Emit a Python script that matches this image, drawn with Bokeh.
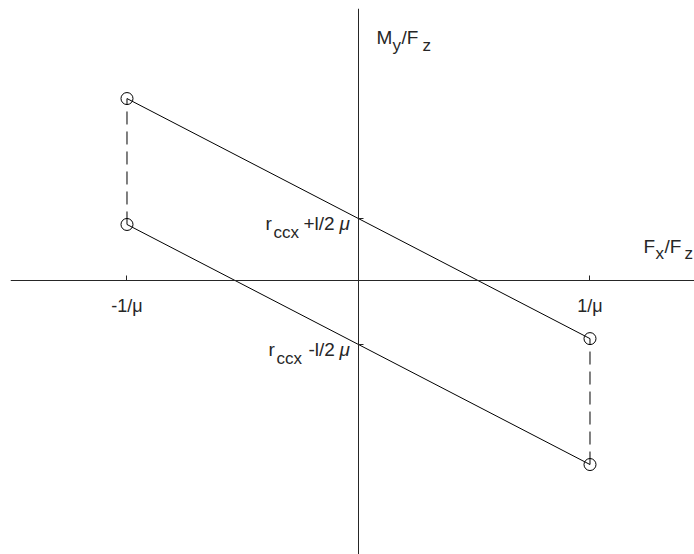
from bokeh.plotting import figure
from bokeh.models import LinearAxis, FixedTicker, Range1d
from bokeh.core.properties import value
from bokeh.embed import file_html
from bokeh.resources import INLINE

# Friction limits on the horizontal axis (in units of 1/mu)
fx_ticks = [-1, 1]
fx_tick_labels = ["-1/\u03bc", "1/\u03bc"]

# Moment/force ratio at the two friction limits
my_upper = [0.786, -0.251]
my_lower = [0.242, -0.795]

# Where each boundary line crosses the vertical axis (Fx/Fz = 0)
upper_icpt = (my_upper[0] + my_upper[1]) / 2
lower_icpt = (my_lower[0] + my_lower[1]) / 2

FONT = "Liberation Sans"
TXT = "#262626"
AX = "#262626"

x0, x1 = -1.5032, 1.4514
y0, y1 = -1.1836, 1.175

p = figure(width=694, height=554, x_range=Range1d(x0, x1), y_range=Range1d(y0, y1),
           x_axis_location=None, y_axis_location=None, toolbar_location=None,
           output_backend="svg", min_border_left=10, min_border_top=8,
           min_border_right=0, min_border_bottom=0, outline_line_color=None)
p.grid.visible = False

xax = LinearAxis(fixed_location=0, ticker=FixedTicker(ticks=fx_ticks),
                 major_label_overrides={t: s for t, s in zip(fx_ticks, fx_tick_labels)},
                 major_tick_in=5, major_tick_out=0, minor_tick_in=0, minor_tick_out=0,
                 axis_line_color=AX, major_tick_line_color=AX,
                 major_label_standoff=15, major_label_text_font=FONT,
                 major_label_text_font_size="18px", major_label_text_color=TXT)
p.add_layout(xax, "below")

yax = LinearAxis(fixed_location=0, ticker=FixedTicker(ticks=[upper_icpt, lower_icpt]),
                 major_tick_in=5, major_tick_out=0, minor_tick_in=0, minor_tick_out=0,
                 axis_line_color=AX, major_tick_line_color=AX,
                 major_label_text_color=None)
p.add_layout(yax, "left")

# Boundary lines of the stick region
p.line(fx_ticks, my_upper, line_color="black", line_width=1)
p.line(fx_ticks, my_lower, line_color="black", line_width=1)

# Dashed connectors at each friction limit
p.segment(x0=fx_ticks, y0=my_lower, x1=fx_ticks, y1=my_upper,
          line_color="black", line_width=1, line_dash="13 7")

# Corner points
p.scatter(fx_ticks + fx_ticks, my_upper + my_lower, marker="circle", size=12,
          fill_color=None, line_color="black", line_width=1)


def put(x, y, pieces):
    for txt, dx, dy, size, style in pieces:
        p.text(x=[x], y=[y], text=[txt], x_offset=dx, y_offset=dy,
               text_font=value(FONT), text_font_size=f"{size}px", text_font_style=style,
               text_color=TXT, text_align="left", text_baseline="alphabetic")


MAIN, SUB = 19, 17
N, I = "normal", "italic"

# Labels of the axis crossings
put(0, upper_icpt, [("r", -93, 5, MAIN, N), ("ccx", -85, 14, SUB, N),
                    ("+l/2", -55, 5, MAIN, N), ("\u03bc", -19, 5, MAIN, I)])
put(0, lower_icpt, [("r", -90, 5, MAIN, N), ("ccx", -82, 14, SUB, N),
                    ("-l/2", -50, 5, MAIN, N), ("\u03bc", -19, 5, MAIN, I)])

# Axis titles
put(0, y1, [("M", 18, 29, MAIN, N), ("y", 34, 37, SUB, N),
            ("/F", 43, 29, MAIN, N), ("z", 64, 37, SUB, N)])
put(x1, 0, [("F", -51, -34, MAIN, N), ("x", -39, -27, SUB, N),
            ("/F", -30, -34, MAIN, N), ("z", -10, -27, SUB, N)])

open("out.html", "w").write(file_html(p, INLINE))
